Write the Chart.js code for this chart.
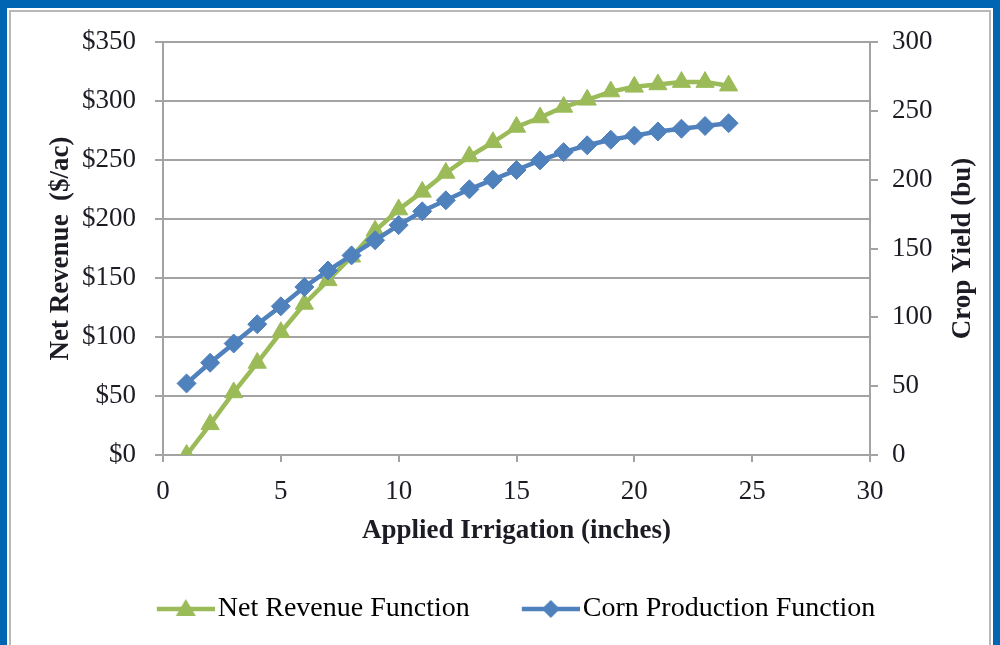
<!DOCTYPE html>
<html>
<head>
<meta charset="utf-8">
<script src="https://cdn.jsdelivr.net/npm/chart.js@4.4.1/dist/chart.umd.min.js"></script>
<style>
  html, body { margin: 0; padding: 0; background: #fff; }
  canvas { display: block; }
</style>
</head>
<body>
<canvas id="grafico" width="1000" height="645"></canvas>
<script>
// values
const irrigation = [1, 2, 3, 4, 5, 6, 7, 8, 9, 10, 11, 12, 13, 14, 15, 16, 17, 18, 19, 20, 21, 22, 23, 24];
const netRevenue = [0, 26, 53, 78, 104, 128, 148, 168, 190, 208, 223, 239, 253, 265, 278, 286, 295, 301, 308, 312, 314, 316, 316, 313];
const cornYield = [52, 67, 81, 95, 108, 122, 134, 145, 156, 167, 177, 185, 193, 200, 207, 214, 220, 225, 229, 232, 235, 237, 239, 241];
const seriesNames = ['Net Revenue Function', 'Corn Production Function'];
const axisTitles = ['Applied Irrigation (inches)', 'Net Revenue  ($/ac)', 'Crop Yield (bu)'];

const verde = '#9bbb59';
const azul = '#4f81bd';
const gris = '#a3a3a3';
const texto = '#1c1c24';
const serif = '"Liberation Serif", "Times New Roman", serif';

// line + marker picture for each legend entry; drawn at the right end of a
// wider transparent canvas so the entries sit apart like in the original
function iconoLeyenda(color, forma) {
  const c = document.createElement('canvas');
  c.width = 101; c.height = 24;
  const g = c.getContext('2d');
  const x0 = 43, cx = 72;
  g.strokeStyle = color; g.fillStyle = color; g.lineWidth = 4.5;
  g.beginPath(); g.moveTo(x0, 12); g.lineTo(101, 12); g.stroke();
  g.beginPath();
  if (forma === 'tri') {
    g.moveTo(cx, 2); g.lineTo(cx + 10, 19); g.lineTo(cx - 10, 19);
  } else {
    g.moveTo(cx, 3); g.lineTo(cx + 9, 12); g.lineTo(cx, 21); g.lineTo(cx - 9, 12);
  }
  g.closePath(); g.fill();
  return c;
}
const iconos = [iconoLeyenda(verde, 'tri'), iconoLeyenda(azul, 'dia')];

const marco = {
  id: 'marco',
  beforeDraw(chart) {
    const ctx = chart.ctx;
    ctx.save();
    ctx.fillStyle = '#0066b3';
    ctx.fillRect(0, 0, 1000, 645);
    ctx.fillStyle = '#ffffff';
    ctx.fillRect(7, 8, 986, 640);
    ctx.strokeStyle = '#b8b8b8';
    ctx.lineWidth = 2;
    ctx.strokeRect(10, 11, 980, 640);
    ctx.restore();
  },
  afterDraw(chart) {
    // right axis title reads bottom to top, like the left one
    const ctx = chart.ctx;
    const a = chart.chartArea;
    ctx.save();
    ctx.translate(963, (a.top + a.bottom) / 2);
    ctx.rotate(-Math.PI / 2);
    ctx.font = 'bold 27px ' + serif;
    ctx.fillStyle = texto;
    ctx.textAlign = 'center';
    ctx.textBaseline = 'middle';
    ctx.fillText(axisTitles[2], 0, 0);
    ctx.restore();
  }
};

const ctx = document.getElementById('grafico').getContext('2d');
new Chart(ctx, {
  type: 'line',
  data: {
    datasets: [{
      label: seriesNames[0],
      data: irrigation.map((x, i) => ({ x: x, y: netRevenue[i] })),
      yAxisID: 'y',
      borderColor: verde,
      backgroundColor: verde,
      borderWidth: 4.5,
      pointStyle: 'triangle',
      pointRadius: 10.5,
      pointBorderWidth: 1,
      order: 2
    }, {
      label: seriesNames[1],
      data: irrigation.map((x, i) => ({ x: x, y: cornYield[i] })),
      yAxisID: 'y2',
      borderColor: azul,
      backgroundColor: azul,
      borderWidth: 4.5,
      pointStyle: 'rectRot',
      pointRadius: 9.5,
      pointBorderWidth: 1,
      order: 1
    }]
  },
  options: {
    responsive: false,
    animation: false,
    layout: { padding: { left: 0, right: 0, top: 42, bottom: 12 } },
    plugins: {
      tooltip: { enabled: false },
      legend: {
        position: 'bottom',
        labels: {
          usePointStyle: true,
          pointStyleWidth: 79,
          boxHeight: 20,
          padding: 20,
          color: '#000',
          font: { family: serif, size: 28 },
          sort: (a, b) => a.datasetIndex - b.datasetIndex,
          generateLabels: function (chart) {
            return chart.data.datasets.map((d, i) => ({
              text: d.label,
              datasetIndex: i,
              pointStyle: iconos[i],
              fillStyle: d.borderColor,
              strokeStyle: d.borderColor,
              lineWidth: 0,
              hidden: false,
              fontColor: '#000'
            }));
          }
        }
      }
    },
    scales: {
      x: {
        type: 'linear',
        min: 0, max: 30,
        ticks: { stepSize: 5, padding: 14, color: texto, font: { family: serif, size: 27 } },
        grid: { drawOnChartArea: false, drawTicks: true, tickLength: 7, color: gris, lineWidth: 2 },
        border: { color: gris, width: 2 },
        title: { display: true, text: axisTitles[0], color: texto, padding: { top: 0, bottom: 28 },
                 font: { family: serif, size: 27, weight: 'bold' } },
        afterFit: s => { s.height = 120; }
      },
      y: {
        position: 'left',
        min: 0, max: 350,
        ticks: { stepSize: 50, padding: 19, color: texto, font: { family: serif, size: 27 },
                 callback: v => '$' + v },
        grid: { color: gris, lineWidth: 2, tickLength: 8 },
        border: { color: gris, width: 2 },
        title: { display: true, text: axisTitles[1], color: texto, padding: { top: 45, bottom: 0 },
                 font: { family: serif, size: 27, weight: 'bold' } },
        afterFit: s => { s.width = 163; }
      },
      y2: {
        position: 'right',
        min: 0, max: 300,
        ticks: { stepSize: 50, padding: 14, color: texto, font: { family: serif, size: 27 } },
        grid: { drawOnChartArea: false, color: gris, lineWidth: 2, tickLength: 8 },
        border: { color: gris, width: 2 },
        afterFit: s => { s.width = 130; }
      }
    }
  },
  plugins: [marco]
});
</script>
</body>
</html>
